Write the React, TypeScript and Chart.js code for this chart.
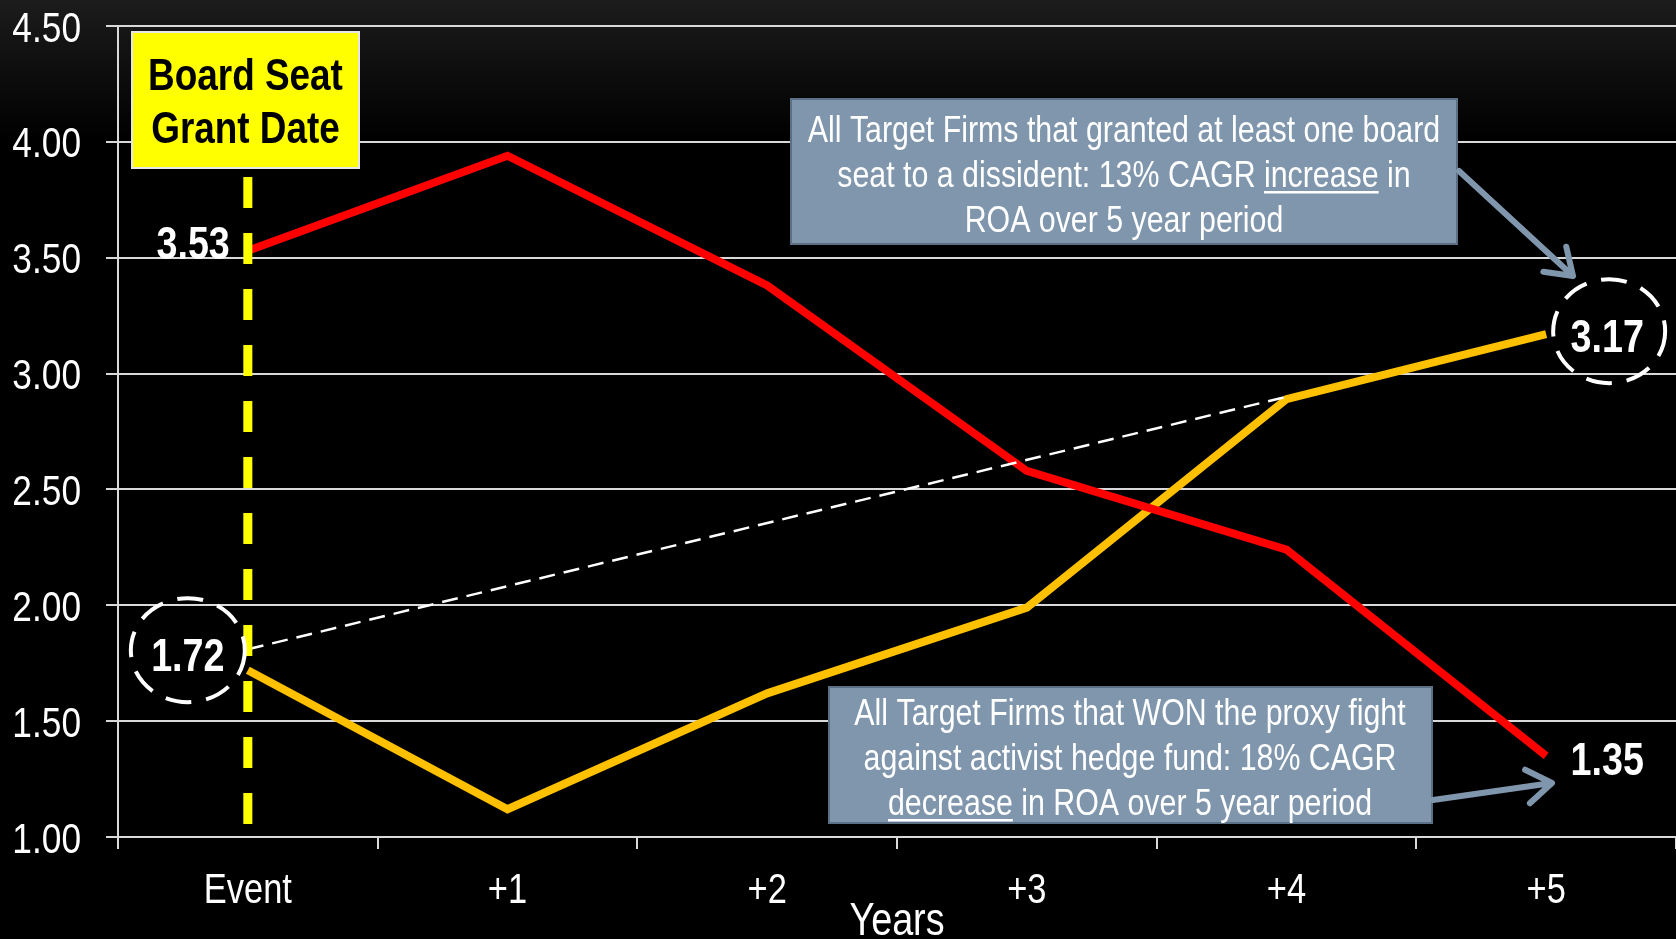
import React, { useEffect, useRef } from "react";
import { Chart, registerables } from "chart.js";

Chart.register(...registerables);

// ---------- data ----------
const categories = ["Event", "+1", "+2", "+3", "+4", "+5"];
const wonProxyFightROA = [3.53, 3.94, 3.38, 2.58, 2.24, 1.35];
const grantedBoardSeatROA = [1.72, 1.12, 1.62, 1.99, 2.89, 3.17];
const trendLineROA = [1.81, null, null, null, 2.9, null];
const yMin = 1.0;
const yMax = 4.5;
const yStep = 0.5;
const eventLabel = "3.53";
const startLabel = "1.72";
const endUpLabel = "3.17";
const endDownLabel = "1.35";
const axisTitle = "Years";
const eventBoxLines = ["Board Seat", "Grant Date"];
const box1Lines = [
  [{ t: "All Target Firms that granted at least one board", u: false }],
  [
    { t: "seat to a dissident: 13% CAGR ", u: false },
    { t: "increase", u: true },
    { t: " in", u: false },
  ],
  [{ t: "ROA over 5 year period", u: false }],
];
const box2Lines = [
  [{ t: "All Target Firms that WON the proxy fight", u: false }],
  [{ t: "against activist hedge fund: 18% CAGR", u: false }],
  [
    { t: "decrease", u: true },
    { t: " in ROA over 5 year period", u: false },
  ],
];

const SANS = "'Liberation Sans', Arial, Helvetica, sans-serif";
const NARROW = 0.82;
const GRID = "#d9d9d9";
const BOX_FILL = "#7f96ad";
const BOX_BORDER = "#5b6f85";

type Seg = { t: string; u: boolean };

function narrowText(
  ctx: CanvasRenderingContext2D,
  text: string,
  x: number,
  y: number,
  size: number,
  bold: boolean,
  align: CanvasTextAlign,
  color: string
) {
  ctx.save();
  ctx.translate(x, y);
  ctx.scale(NARROW, 1);
  ctx.font = `${bold ? "bold " : ""}${size}px ${SANS}`;
  ctx.textAlign = align;
  ctx.textBaseline = "alphabetic";
  ctx.fillStyle = color;
  ctx.fillText(text, 0, 0);
  ctx.restore();
}

function segLine(
  ctx: CanvasRenderingContext2D,
  segs: Seg[],
  cx: number,
  baseline: number,
  size: number,
  color: string
) {
  ctx.save();
  ctx.font = `${size}px ${SANS}`;
  const widths = segs.map((s) => ctx.measureText(s.t).width * NARROW);
  const total = widths.reduce((a, b) => a + b, 0);
  let x = cx - total / 2;
  segs.forEach((s, i) => {
    narrowText(ctx, s.t, x, baseline, size, false, "left", color);
    if (s.u) {
      ctx.fillStyle = color;
      ctx.fillRect(x, baseline + 4, widths[i], 2.5);
    }
    x += widths[i];
  });
  ctx.restore();
}

function arrow(
  ctx: CanvasRenderingContext2D,
  x1: number,
  y1: number,
  x2: number,
  y2: number
) {
  const ang = Math.atan2(y2 - y1, x2 - x1);
  const head = 30;
  const spread = 0.6;
  ctx.save();
  ctx.strokeStyle = BOX_FILL;
  ctx.lineWidth = 6;
  ctx.lineCap = "round";
  ctx.lineJoin = "round";
  ctx.beginPath();
  ctx.moveTo(x1, y1);
  ctx.lineTo(x2, y2);
  ctx.moveTo(x2 - head * Math.cos(ang - spread), y2 - head * Math.sin(ang - spread));
  ctx.lineTo(x2, y2);
  ctx.lineTo(x2 - head * Math.cos(ang + spread), y2 - head * Math.sin(ang + spread));
  ctx.stroke();
  ctx.restore();
}

function dashedEllipse(ctx: CanvasRenderingContext2D, cx: number, cy: number, rx: number, ry: number) {
  ctx.save();
  ctx.strokeStyle = "#ffffff";
  ctx.lineWidth = 4;
  ctx.setLineDash([26, 15]);
  ctx.beginPath();
  ctx.ellipse(cx, cy, rx, ry, 0, 0, Math.PI * 2);
  ctx.stroke();
  ctx.restore();
}

const annotationPlugin = {
  id: "roaAnnotations",
  beforeDraw(chart: any) {
    const { ctx, width, height } = chart;
    ctx.save();
    const g = ctx.createLinearGradient(0, 0, 0, 140);
    g.addColorStop(0, "#1c1c1c");
    g.addColorStop(1, "#000000");
    ctx.fillStyle = g;
    ctx.fillRect(0, 0, width, height);
    ctx.restore();
  },
  afterDatasetsDraw(chart: any) {
    const { ctx, chartArea } = chart;
    const xs = chart.scales.x;
    const ys = chart.scales.y;
    const xEvent = xs.getPixelForValue(0);
    const xLast = xs.getPixelForValue(categories.length - 1);

    // tick labels (narrow face)
    ys.ticks.forEach((t: any, i: number) => {
      const py = ys.getPixelForTick(i);
      narrowText(ctx, Number(t.value).toFixed(2), 81, py + 15.5, 43, false, "right", "#ffffff");
    });
    xs.ticks.forEach((t: any, i: number) => {
      const px = xs.getPixelForValue(i);
      narrowText(ctx, categories[i], px, 903, 42, false, "center", "#ffffff");
    });

    // yellow event line
    ctx.save();
    ctx.strokeStyle = "#ffff00";
    ctx.lineWidth = 9;
    ctx.setLineDash([31, 25]);
    ctx.beginPath();
    ctx.moveTo(xEvent, 177);
    ctx.lineTo(xEvent, 825);
    ctx.stroke();
    ctx.restore();

    // yellow box
    ctx.save();
    ctx.fillStyle = "#ffff00";
    ctx.fillRect(132, 32, 227, 136);
    ctx.strokeStyle = "#e6e6e6";
    ctx.lineWidth = 2;
    ctx.strokeRect(132, 32, 227, 136);
    ctx.restore();
    narrowText(ctx, eventBoxLines[0], 245.5, 90, 45, true, "center", "#000000");
    narrowText(ctx, eventBoxLines[1], 245.5, 143, 45, true, "center", "#000000");

    // value labels
    const yA = ys.getPixelForValue(wonProxyFightROA[0]);
    narrowText(ctx, eventLabel, xEvent - 18, yA + 8, 46, true, "right", "#ffffff");

    const yB = ys.getPixelForValue(grantedBoardSeatROA[0]);
    dashedEllipse(ctx, xEvent - 60, yB - 20, 57, 52);
    narrowText(ctx, startLabel, xEvent - 60, yB - 20 + 21, 46, true, "center", "#ffffff");

    const yC = ys.getPixelForValue(grantedBoardSeatROA[grantedBoardSeatROA.length - 1]);
    dashedEllipse(ctx, xLast + 63, yC - 3, 56, 52);
    narrowText(ctx, endUpLabel, xLast + 61, yC - 3 + 21, 46, true, "center", "#ffffff");

    const yD = ys.getPixelForValue(wonProxyFightROA[wonProxyFightROA.length - 1]);
    narrowText(ctx, endDownLabel, xLast + 61, yD + 19, 46, true, "center", "#ffffff");

    // box 1
    ctx.save();
    ctx.fillStyle = BOX_FILL;
    ctx.fillRect(791, 99, 666, 145);
    ctx.strokeStyle = BOX_BORDER;
    ctx.lineWidth = 2;
    ctx.strokeRect(791, 99, 666, 145);
    ctx.restore();
    [129, 174, 219].forEach((cy, i) => segLine(ctx, box1Lines[i], 1124, cy + 13, 37, "#ffffff"));
    arrow(ctx, 1459, 171, 1573, 276);

    // box 2
    ctx.save();
    ctx.fillStyle = BOX_FILL;
    ctx.fillRect(829, 687, 603, 136);
    ctx.strokeStyle = BOX_BORDER;
    ctx.lineWidth = 2;
    ctx.strokeRect(829, 687, 603, 136);
    ctx.restore();
    [712, 757, 802].forEach((cy, i) => segLine(ctx, box2Lines[i], 1130, cy + 13, 37, "#ffffff"));
    arrow(ctx, 1433, 800, 1552, 783);

    // axis title
    narrowText(ctx, axisTitle, (chartArea.left + chartArea.right) / 2, 935, 46, false, "center", "#ffffff");
  },
};

export default function App() {
  const canvasRef = useRef<HTMLCanvasElement | null>(null);

  useEffect(() => {
    document.body.style.margin = "0";
    document.body.style.background = "#000";
    document.body.style.overflow = "hidden";
    const canvas = canvasRef.current;
    if (!canvas) return;
    const chart = new Chart(canvas, {
      type: "line",
      data: {
        labels: categories,
        datasets: [
          {
            label: "Trend",
            data: trendLineROA,
            borderColor: "#ffffff",
            borderWidth: 2.5,
            borderDash: [16, 9],
            pointRadius: 0,
            spanGaps: true,
            tension: 0,
          },
          {
            label: "Won proxy fight",
            data: wonProxyFightROA,
            borderColor: "#ff0000",
            borderWidth: 8,
            pointRadius: 0,
            tension: 0,
          },
          {
            label: "Granted board seat",
            data: grantedBoardSeatROA,
            borderColor: "#ffc000",
            borderWidth: 8,
            pointRadius: 0,
            tension: 0,
          },
        ],
      },
      options: {
        animation: false,
        responsive: false,
        devicePixelRatio: 1,
        layout: { padding: { top: 26, left: 0, right: 0, bottom: 0 } },
        plugins: {
          legend: { display: false },
          tooltip: { enabled: false },
        },
        scales: {
          x: {
            type: "category",
            offset: true,
            grid: {
              display: true,
              drawOnChartArea: false,
              drawTicks: true,
              tickLength: 12,
              offset: true,
              color: GRID,
              lineWidth: 2,
            },
            border: { display: true, color: GRID, width: 2 },
            ticks: {
              color: "rgba(0,0,0,0)",
              font: { family: SANS, size: 20 },
              padding: 0,
              maxRotation: 0,
              autoSkip: false,
            },
            afterFit: (s: any) => {
              s.height = 102;
            },
          },
          y: {
            min: yMin,
            max: yMax,
            grid: {
              color: GRID,
              lineWidth: 2,
              drawTicks: true,
              tickLength: 12,
            },
            border: { display: true, color: GRID, width: 2 },
            ticks: {
              stepSize: yStep,
              color: "rgba(0,0,0,0)",
              font: { family: SANS, size: 20 },
              padding: 0,
              callback: (v: any) => Number(v).toFixed(2),
            },
            afterFit: (s: any) => {
              s.width = 118;
            },
          },
        },
      },
      plugins: [annotationPlugin],
    } as any);
    return () => chart.destroy();
  }, []);

  return (
    <div style={{ width: 1676, height: 939 }}>
      <canvas
        ref={canvasRef}
        width={1676}
        height={939}
        style={{ display: "block", width: 1676, height: 939 }}
      />
    </div>
  );
}
